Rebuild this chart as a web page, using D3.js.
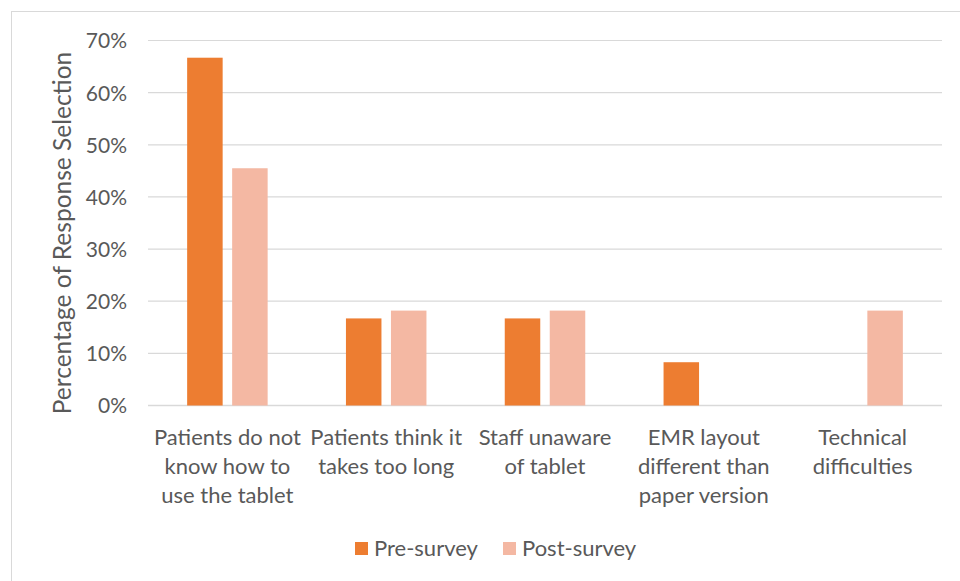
<!DOCTYPE html>
<html>
<head>
<meta charset="utf-8">
<script src="https://cdn.jsdelivr.net/npm/d3@7"></script>
<style>
  html, body { margin: 0; padding: 0; background: #fff; }
  svg { display: block; }
  text { font-family: Lato, "Open Sans", sans-serif; fill: #595959; }
</style>
</head>
<body>
<svg id="chart" width="960" height="581"></svg>
<script>
// Survey responses: reasons the tablet was not used
const categories = [
  ["Patients do not", "know how to", "use the tablet"],
  ["Patients think it", "takes too long"],
  ["Staff unaware", "of tablet"],
  ["EMR layout", "different than", "paper version"],
  ["Technical", "difficulties"]
];
const seriesNames = ["Pre-survey", "Post-survey"];
const preSurvey  = [66.7, 16.7, 16.7, 8.3, 0];
const postSurvey = [45.5, 18.2, 18.2, 0, 18.2];
const yTicks = [0, 10, 20, 30, 40, 50, 60, 70];
const colors = ["#ED7D31", "#F4B8A3"];

const svg = d3.select("#chart");
const W = 960, H = 581;
const plot = { left: 148, right: 942, top: 40.5, bottom: 405.5 };

// outer frame
svg.append("rect")
  .attr("x", 11.5).attr("y", 11.5)
  .attr("width", W + 10).attr("height", H + 10)
  .attr("fill", "none").attr("stroke", "#d9d9d9").attr("stroke-width", 1);

const x = d3.scaleBand()
  .domain(d3.range(categories.length))
  .range([plot.left, plot.right]);

const xInner = d3.scaleBand()
  .domain(d3.range(seriesNames.length))
  .range([0, 80.5])
  .paddingInner(0.211);

const y = d3.scaleLinear().domain([0, 70]).range([plot.bottom, plot.top]);

// gridlines
svg.append("g")
  .selectAll("line")
  .data(yTicks)
  .join("line")
  .attr("x1", plot.left).attr("x2", plot.right)
  .attr("y1", d => y(d)).attr("y2", d => y(d))
  .attr("stroke", "#d9d9d9").attr("stroke-width", d => d === 0 ? 1.5 : 1.2);

// y tick labels
const yAxis = d3.axisLeft(y).tickValues(yTicks).tickFormat(d => d + "%").tickSize(0).tickPadding(0);
const yg = svg.append("g").attr("transform", `translate(127,0)`).call(yAxis);
yg.select(".domain").remove();
yg.selectAll("text")
  .attr("font-size", 21)
  .attr("font-family", "Lato, 'Open Sans', sans-serif")
  .attr("fill", "#595959")
  .attr("dy", "0.35em");

// bars
const data = categories.map((c, i) => [preSurvey[i], postSurvey[i]]);
const groups = svg.append("g")
  .selectAll("g")
  .data(data)
  .join("g")
  .attr("transform", (d, i) => `translate(${x(i) + x.bandwidth() / 2 - 40.25},0)`);

groups.selectAll("rect")
  .data(d => d.map((v, s) => ({ v, s })))
  .join("rect")
  .filter(d => d.v > 0)
  .attr("x", d => xInner(d.s))
  .attr("width", xInner.bandwidth())
  .attr("y", d => y(d.v))
  .attr("height", d => y(0) - y(d.v))
  .attr("fill", d => colors[d.s]);

// category labels
const catG = svg.append("g");
categories.forEach((lines, i) => {
  const t = catG.append("text")
    .attr("text-anchor", "middle")
    .attr("font-size", 22)
    .attr("x", x(i) + x.bandwidth() / 2)
    .attr("y", 445);
  lines.forEach((ln, k) => {
    t.append("tspan")
      .attr("x", x(i) + x.bandwidth() / 2)
      .attr("dy", k === 0 ? 0 : 28.8)
      .text(ln);
  });
});

// y axis title
svg.append("text")
  .attr("transform", `translate(71,${(plot.top + plot.bottom) / 2 + 10}) rotate(-90)`)
  .attr("text-anchor", "middle")
  .attr("font-size", 24.5)
  .text("Percentage of Response Selection");

// legend
const legendItems = [
  { name: seriesNames[0], color: colors[0], x: 355 },
  { name: seriesNames[1], color: colors[1], x: 503 }
];
const lg = svg.append("g");
legendItems.forEach(it => {
  lg.append("rect")
    .attr("x", it.x).attr("y", 542)
    .attr("width", 13).attr("height", 13)
    .attr("fill", it.color);
  lg.append("text")
    .attr("x", it.x + 19).attr("y", 556)
    .attr("font-size", 22)
    .text(it.name);
});
</script>
</body>
</html>
